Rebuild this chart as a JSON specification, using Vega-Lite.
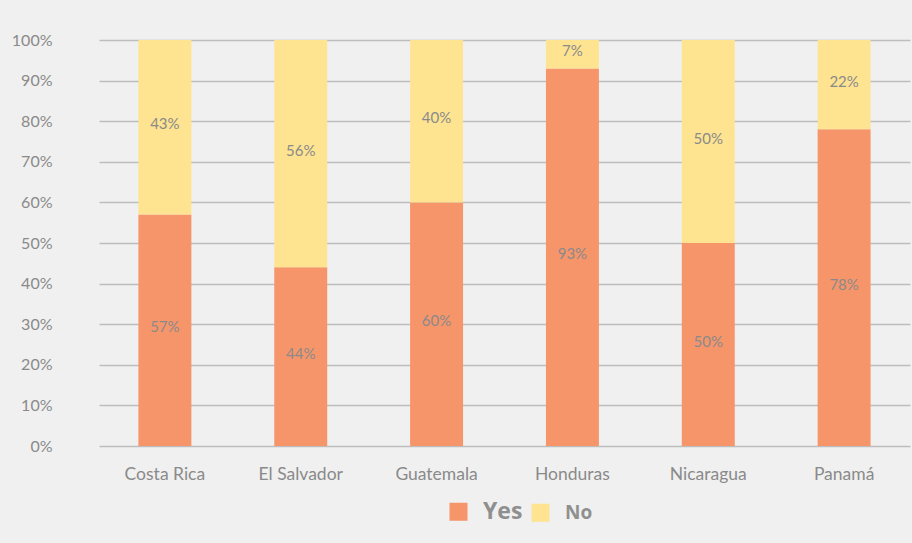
{
  "$schema": "https://vega.github.io/schema/vega-lite/v6.json",
  "width": 811,
  "height": 406,
  "autosize": {"type": "none"},
  "padding": {"left": 99, "top": 40, "right": 2, "bottom": 97},
  "background": "#f0f0f0",
  "config": {
    "view": {"stroke": null},
    "font": "Lato"
  },
  "data": {
    "values": [
      {"country": "Costa Rica", "answer": "Yes", "value": 57, "label": "57%", "ord": 1},
      {"country": "Costa Rica", "answer": "No", "value": 43, "label": "43%", "ord": 2},
      {"country": "El Salvador", "answer": "Yes", "value": 44, "label": "44%", "ord": 1},
      {"country": "El Salvador", "answer": "No", "value": 56, "label": "56%", "ord": 2},
      {"country": "Guatemala", "answer": "Yes", "value": 60, "label": "60%", "ord": 1},
      {"country": "Guatemala", "answer": "No", "value": 40, "label": "40%", "ord": 2},
      {"country": "Honduras", "answer": "Yes", "value": 93, "label": "93%", "ord": 1},
      {"country": "Honduras", "answer": "No", "value": 7, "label": "7%", "ord": 2},
      {"country": "Nicaragua", "answer": "Yes", "value": 50, "label": "50%", "ord": 1},
      {"country": "Nicaragua", "answer": "No", "value": 50, "label": "50%", "ord": 2},
      {"country": "Panamá", "answer": "Yes", "value": 78, "label": "78%", "ord": 1},
      {"country": "Panamá", "answer": "No", "value": 22, "label": "22%", "ord": 2}
    ]
  },
  "encoding": {
    "x": {
      "field": "country",
      "type": "nominal",
      "sort": null,
      "scale": {"paddingInner": 0.61, "paddingOuter": 0.29},
      "axis": {
        "title": null,
        "labelAngle": 0,
        "domain": false,
        "ticks": false,
        "labelFontSize": 17.5,
        "labelColor": "#8a8a8a",
        "labelPadding": 19,
        "grid": false
      }
    },
    "y": {
      "field": "value",
      "type": "quantitative",
      "stack": "normalize",
      "scale": {"domain": [0, 1]},
      "axis": {
        "title": null,
        "format": ".0%",
        "values": [0, 0.1, 0.2, 0.3, 0.4, 0.5, 0.6, 0.7, 0.8, 0.9, 1],
        "labelOverlap": false,
        "domain": false,
        "ticks": false,
        "labelFontSize": 16,
        "labelColor": "#8a8a8a",
        "labelPadding": 47,
        "gridColor": "#bdbdbd",
        "gridWidth": 1.5
      }
    },
    "order": {"field": "ord", "type": "quantitative"}
  },
  "layer": [
    {
      "mark": {"type": "bar"},
      "encoding": {
        "color": {
          "field": "answer",
          "type": "nominal",
          "scale": {"domain": ["Yes", "No"], "range": ["#f7956a", "#fee491"]},
          "legend": {
            "title": null,
            "orient": "none",
            "direction": "horizontal",
            "legendX": 350,
            "legendY": 462,
            "symbolType": "square",
            "symbolSize": 324,
            "symbolStrokeWidth": 0,
            "symbolOpacity": 1,
            "labelFont": "Open Sans",
            "labelFontWeight": "bold",
            "labelColor": "#8f8f8f",
            "labelFontSize": 18,
            "labelOffset": 15,
            "columnPadding": 8,
            "encode": {
              "labels": {
                "update": {
                  "fontSize": {"signal": "datum.label == 'Yes' ? 23 : 19"}
                }
              }
            }
          }
        }
      }
    },
    {
      "mark": {"type": "text", "fontSize": 15, "color": "#8a8a8a", "baseline": "middle", "dy": -3},
      "encoding": {
        "y": {
          "field": "value",
          "type": "quantitative",
          "stack": "normalize",
          "bandPosition": 0.5
        },
        "text": {"field": "label", "type": "nominal"}
      }
    }
  ]
}
